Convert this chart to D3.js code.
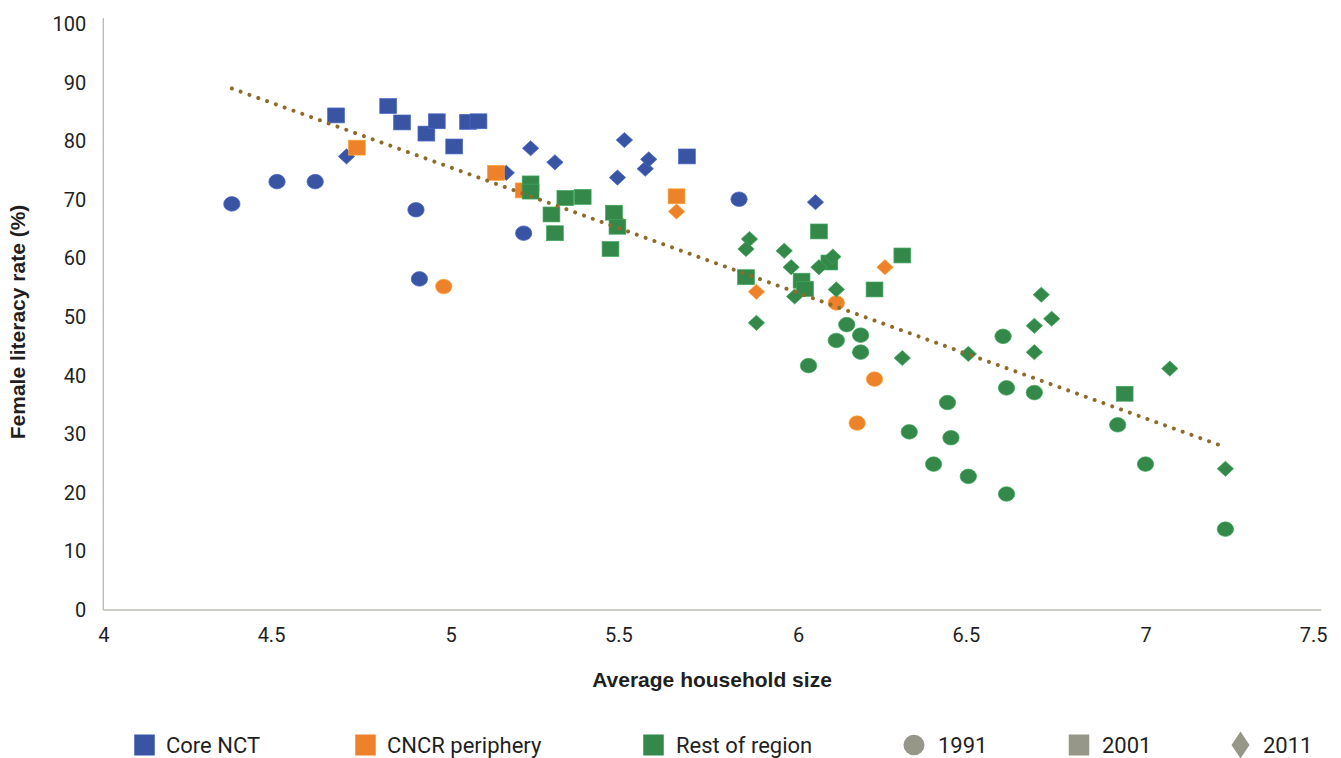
<!DOCTYPE html>
<html>
<head>
<meta charset="utf-8">
<script src="https://cdn.jsdelivr.net/npm/d3@7"></script>
<style>
  html, body { margin: 0; padding: 0; background: #fff; }
  svg { display: block; }
  .tick text { font-family: Roboto, "Liberation Sans", sans-serif; font-size: 20px; fill: #1f1f1f; }
  .axis-title { font-family: "Liberation Sans", Arial, sans-serif; font-weight: bold; font-size: 21px; fill: #1f1f1f; }
  .legend-text { font-family: Roboto, "Liberation Sans", sans-serif; font-size: 22px; fill: #1f1f1f; }
</style>
</head>
<body>
<svg id="chart" width="1341" height="758"></svg>
<script>
// Female literacy rate (%) against average household size, by area and census year.
// Each point: [average household size, female literacy rate]

// Core NCT
const coreNCT1991 = [[4.37, 69.3], [4.50, 73.1], [4.61, 73.1], [4.90, 68.3], [4.91, 56.5], [5.21, 64.3], [5.83, 70.1]];
const coreNCT2001 = [[4.67, 84.4], [4.82, 86.0], [4.86, 83.2], [4.93, 81.3], [4.96, 83.4], [5.01, 79.1], [5.05, 83.3], [5.08, 83.4], [5.68, 77.4]];
const coreNCT2011 = [[4.70, 77.4], [5.16, 74.6], [5.23, 78.8], [5.30, 76.4], [5.48, 73.8], [5.50, 80.2], [5.56, 75.3], [5.57, 76.9], [6.05, 69.6]];

// CNCR periphery
const cncr1991 = [[4.98, 55.2], [6.11, 52.4], [6.22, 39.4], [6.17, 31.9]];
const cncr2001 = [[4.73, 78.9], [5.13, 74.6], [5.21, 71.6], [5.65, 70.6]];
const cncr2011 = [[5.48, 66.5], [5.65, 68.0], [5.88, 54.3], [6.25, 58.5]];

// Rest of region
const rest1991 = [[6.14, 48.7], [6.18, 46.9], [6.11, 46.0], [6.18, 44.0], [6.03, 41.7], [6.59, 46.7], [6.60, 37.9], [6.68, 37.1],
                  [6.43, 35.4], [6.32, 30.4], [6.44, 29.4], [6.92, 31.6], [6.39, 24.9], [6.49, 22.8], [6.60, 19.8], [7.00, 24.9], [7.23, 13.8]];
const rest2001 = [[5.23, 72.8], [5.23, 71.4], [5.29, 67.5], [5.30, 64.3], [5.33, 70.3], [5.38, 70.5], [5.46, 61.6], [5.47, 67.8],
                  [5.48, 65.4], [5.85, 56.8], [6.01, 56.2], [6.02, 54.8], [6.06, 64.6], [6.09, 59.3], [6.22, 54.7], [6.30, 60.5], [6.94, 36.9]];
const rest2011 = [[5.86, 63.3], [5.85, 61.6], [5.96, 61.3], [5.98, 58.5], [6.10, 60.3], [6.06, 58.5], [6.11, 54.7], [5.99, 53.5],
                  [5.88, 49.0], [6.30, 43.0], [6.49, 43.7], [6.70, 53.8], [6.73, 49.7], [6.68, 48.5], [6.68, 44.0], [7.07, 41.2], [7.23, 24.1]];

// Linear trend across all points (start and end)
const trendLine = [[4.37, 89.0], [7.22, 28.0]];

const regionNames = ["Core NCT", "CNCR periphery", "Rest of region"];
const yearNames = ["1991", "2001", "2011"];
const xTicks = [4, 4.5, 5, 5.5, 6, 6.5, 7, 7.5];
const yTicks = [0, 10, 20, 30, 40, 50, 60, 70, 80, 90, 100];

const regionColors = ["#3a54a4", "#ee822a", "#33884a"];
const yearGray = "#979789";

const seriesList = [
  { region: 0, year: 0, points: coreNCT1991 },
  { region: 0, year: 1, points: coreNCT2001 },
  { region: 0, year: 2, points: coreNCT2011 },
  { region: 1, year: 0, points: cncr1991 },
  { region: 1, year: 1, points: cncr2001 },
  { region: 1, year: 2, points: cncr2011 },
  { region: 2, year: 0, points: rest1991 },
  { region: 2, year: 1, points: rest2001 },
  { region: 2, year: 2, points: rest2011 }
];

const svg = d3.select("#chart");

const x = d3.scaleLinear().domain([4, 7.5]).range([103.3, 1319.2]);
const y = d3.scaleLinear().domain([0, 100]).range([610, 24]);

// Axis labels
const fmt = d => String(d);
const xAxis = svg.append("g")
  .attr("transform", `translate(0,${y(0)})`)
  .call(d3.axisBottom(x).tickValues(xTicks).tickFormat(fmt).tickSize(0).tickPadding(18));
xAxis.select(".domain").remove();
xAxis.selectAll(".tick text").attr("dx", d => (d % 1 !== 0 ? -6 : 0));

const yAxis = svg.append("g")
  .attr("transform", `translate(${x(4)},0)`)
  .call(d3.axisLeft(y).tickValues(yTicks).tickFormat(fmt).tickSize(0).tickPadding(17));
yAxis.select(".domain").remove();

// Axis lines
svg.append("line")
  .attr("x1", x(4)).attr("x2", x(4))
  .attr("y1", y(100) - 6).attr("y2", y(0))
  .attr("stroke", "#bdbdb4").attr("stroke-width", 1.4);
svg.append("line")
  .attr("x1", x(4)).attr("x2", x(7.5) + 2)
  .attr("y1", y(0)).attr("y2", y(0))
  .attr("stroke", "#bdbdb4").attr("stroke-width", 1.4);

// Axis titles
svg.append("text").attr("class", "axis-title")
  .attr("x", 712).attr("y", 687)
  .attr("text-anchor", "middle")
  .text("Average household size");
svg.append("text").attr("class", "axis-title")
  .attr("transform", "translate(25,322) rotate(-90)")
  .attr("text-anchor", "middle")
  .text("Female literacy rate (%)");

// Marker shapes per census year
function drawMarker(sel, year, w, h) {
  if (year === 0) {
    return sel.append("ellipse").attr("rx", w / 2).attr("ry", h / 2);
  } else if (year === 1) {
    return sel.append("rect").attr("x", -w / 2).attr("y", -h / 2).attr("width", w).attr("height", h);
  }
  return sel.append("path")
    .attr("d", `M0,${-h / 2}L${w / 2},0L0,${h / 2}L${-w / 2},0Z`);
}

const markerSize = [[16.4, 14.6], [16.8, 14.9], [16.4, 15.2]];

const plot = svg.append("g");
seriesList.forEach(s => {
  const g = plot.append("g");
  s.points.forEach(p => {
    const m = g.append("g").attr("transform", `translate(${x(p[0])},${y(p[1])})`);
    drawMarker(m, s.year, markerSize[s.year][0], markerSize[s.year][1])
      .attr("fill", regionColors[s.region])
      .attr("stroke", d3.color(regionColors[s.region]).brighter(0.6))
      .attr("stroke-width", 0.7);
  });
});

// Dotted trend line
svg.append("line")
  .attr("x1", x(trendLine[0][0])).attr("y1", y(trendLine[0][1]))
  .attr("x2", x(trendLine[1][0])).attr("y2", y(trendLine[1][1]))
  .attr("stroke", "#8e6b2a")
  .attr("stroke-width", 4)
  .attr("stroke-linecap", "round")
  .attr("stroke-dasharray", "0.01 9.35");

// Legend
const legendY = 745;
const legendItems = [
  { label: regionNames[0], kind: 1, color: regionColors[0], mx: 144.5, tx: 166 },
  { label: regionNames[1], kind: 1, color: regionColors[1], mx: 365.5, tx: 387 },
  { label: regionNames[2], kind: 1, color: regionColors[2], mx: 653.5, tx: 676 },
  { label: yearNames[0], kind: 0, color: yearGray, mx: 914, tx: 938 },
  { label: yearNames[1], kind: 1, color: yearGray, mx: 1079, tx: 1102 },
  { label: yearNames[2], kind: 2, color: yearGray, mx: 1240.5, tx: 1263 }
];
const legendSize = [[21, 20.5], [20.5, 21], [18, 27]];
const legend = svg.append("g");
legendItems.forEach(it => {
  const m = legend.append("g").attr("transform", `translate(${it.mx},${legendY})`);
  drawMarker(m, it.kind, legendSize[it.kind][0], legendSize[it.kind][1]).attr("fill", it.color);
  legend.append("text").attr("class", "legend-text")
    .attr("x", it.tx).attr("y", legendY)
    .attr("dy", "0.35em")
    .text(it.label);
});
</script>
</body>
</html>
